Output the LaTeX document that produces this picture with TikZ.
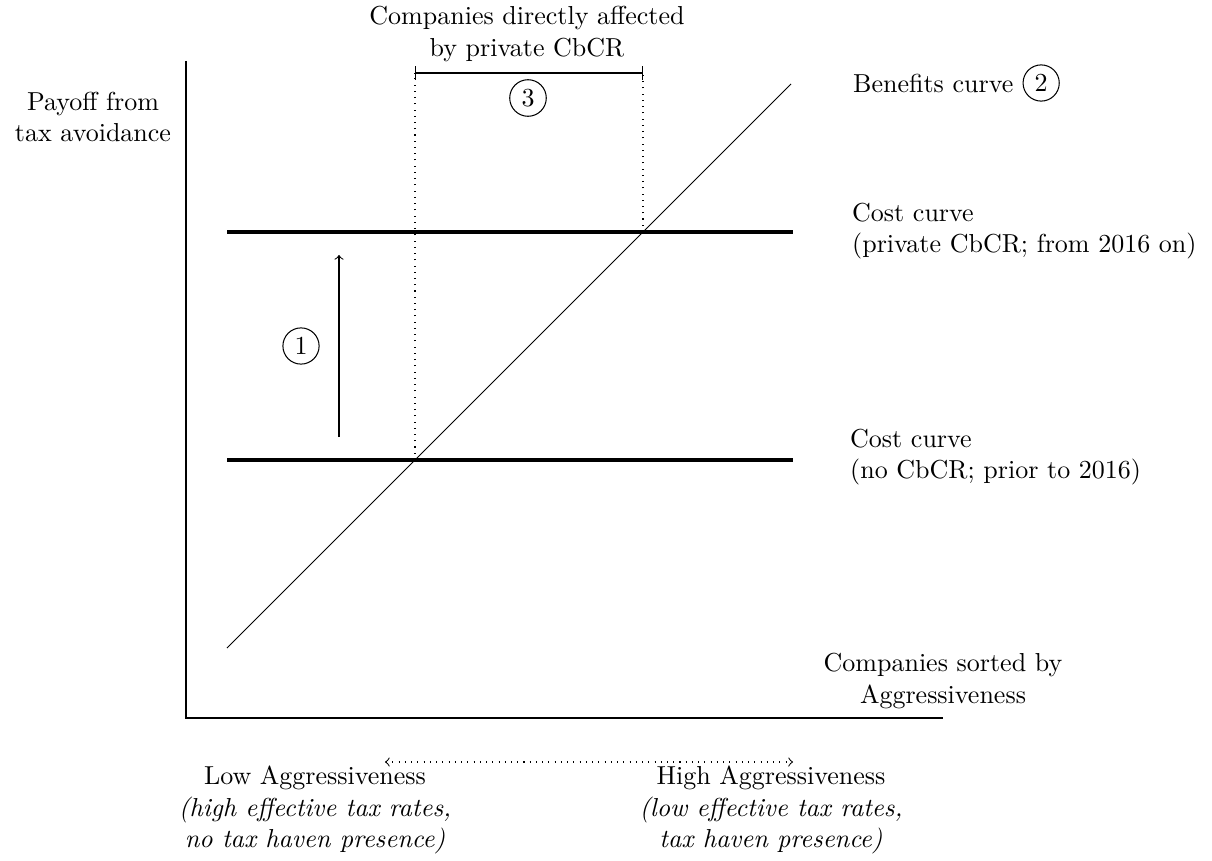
\documentclass[tikz,border=0pt]{standalone}
\usepackage{tikz}
\usetikzlibrary{positioning}

\begin{document}
\begin{tikzpicture}[x=0.3846pt,y=-0.3846pt,
    cost/.style={line width=1.6pt},
    num/.style={draw,circle,inner sep=2pt},
    lbl/.style={align=center}]
    \useasboundingbox(0,0)rectangle(1212,861);

    \coordinate(O)at(186,718);
    \coordinate(ytop)at(186,61);
    \coordinate(xend)at(943,718);
    \draw(ytop)--(O)--(xend);
    \node[lbl](payoff)at(93,117){Payoff from\\tax avoidance};
    \node[lbl](sorted)at(943,681){Companies sorted by\\Aggressiveness};

    \coordinate(b1)at(227,648);
    \coordinate(b2)at(791,84);
    \draw(b1)--(b2);
    \node[anchor=west](benefits)at(844,83){Benefits curve};
    \node[num,right=0pt of benefits](n2){2};

    \coordinate(c1a)at(227,460);
    \coordinate(c1b)at(793,460);
    \coordinate(c2a)at(227,232);
    \coordinate(c2b)at(793,232);
    \draw[cost](c1a)--(c1b);
    \draw[cost](c2a)--(c2b);
    \node[anchor=west,align=left](costlow)at(841,457){Cost curve\\(no CbCR; prior to 2016)};
    \node[anchor=west,align=left](costhigh)at(843,231){Cost curve\\(private CbCR; from 2016 on)};

    \coordinate(a1)at(339,437);
    \coordinate(a2)at(339,255);
    \draw[->](a1)--(a2);
    \node[num](n1)at(301,346){1};

    \coordinate(p1)at(415,460);
    \coordinate(p2)at(643,232);
    \coordinate(t1)at(415,73);
    \coordinate(t2)at(643,73);
    \draw[dotted](p1)--(t1);
    \draw[dotted](p2)--(t2);
    \draw[|-|](t1)--(t2);
    \node[num](n3)at(528,98){3};
    \node[lbl](affected)at(527,34){Companies directly affected\\by private CbCR};

    \coordinate(d1)at(385,762);
    \coordinate(d2)at(793,762);
    \draw[dotted,<->](d1)--(d2);
    \node[lbl](low)at(315,810){Low Aggressiveness\\\textit{(high effective tax rates,}\\\textit{no tax haven presence)}};
    \node[lbl](high)at(771,810){High Aggressiveness\\\textit{(low effective tax rates,}\\\textit{tax haven presence)}};
\end{tikzpicture}
\end{document}
